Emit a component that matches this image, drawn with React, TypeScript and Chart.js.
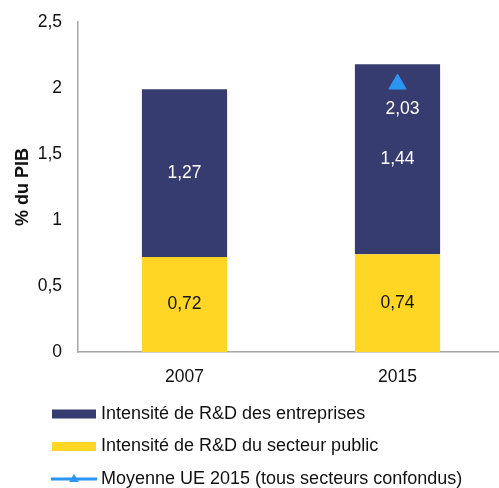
import React, { useEffect, useRef } from "react";
import { Chart, registerables } from "chart.js";

Chart.register(...registerables);

const categories = ["2007", "2015"];
const publicValues = [0.72, 0.74];
const businessValues = [1.27, 1.44];
const euAverage = [null, 2.03];
const seriesNames = [
  "Intensité de R&D des entreprises",
  "Intensité de R&D du secteur public",
  "Moyenne UE 2015 (tous secteurs confondus)",
];
const yTitle = "% du PIB";

const NAVY = "#363C70";
const YELLOW = "#FFD624";
const BLUE = "#2C95F2";
const FONT = "'Liberation Sans', Arial, sans-serif";

const fmt = (v: number, d?: number) =>
  (d === undefined ? String(v) : v.toFixed(d)).replace(".", ",");

const PLOT_TOP = 22;

const extendPlot = {
  id: "extendPlot",
  afterLayout(chart: any) {
    const x = chart.scales.x;
    const y = chart.scales.y;
    const r = chart.width + 5;
    x.right = r;
    x.width = r - x.left;
    chart.chartArea.right = r;
    chart.chartArea.width = r - chart.chartArea.left;
    y.top = PLOT_TOP;
    y.height = y.bottom - PLOT_TOP;
    chart.chartArea.top = PLOT_TOP;
    chart.chartArea.height = chart.chartArea.bottom - PLOT_TOP;
    x.configure();
    y.configure();
  },
};

const labelPlugin = {
  id: "labels",
  afterDatasetsDraw(chart: any) {
    const ctx = chart.ctx;
    ctx.save();
    ctx.font = `17.5px ${FONT}`;
    ctx.textAlign = "center";
    ctx.textBaseline = "middle";
    chart.data.datasets.forEach((ds: any, di: number) => {
      const meta = chart.getDatasetMeta(di);
      meta.data.forEach((el: any, i: number) => {
        const v = ds.data[i];
        if (v == null) return;
        if (ds.type === "line") {
          ctx.fillStyle = "#FFFFFF";
          ctx.fillText(fmt(v, 2), el.x + 5, el.y + 25);
        } else {
          ctx.fillStyle = ds.labelColor;
          ctx.fillText(fmt(v, 2), el.x, (el.y + el.base) / 2);
        }
      });
    });
    ctx.restore();
  },
};

const legendPlugin = {
  id: "customLegend",
  afterDraw(chart: any) {
    const ctx = chart.ctx;
    const H = chart.height;
    const rows = [
      { name: seriesNames[0], color: NAVY, kind: "box" },
      { name: seriesNames[1], color: YELLOW, kind: "box" },
      { name: seriesNames[2], color: BLUE, kind: "line" },
    ];
    ctx.save();
    ctx.font = `18px ${FONT}`;
    ctx.textAlign = "left";
    ctx.textBaseline = "middle";
    rows.forEach((r, i) => {
      const cy = H - 74 + i * 32.5;
      ctx.fillStyle = r.color;
      if (r.kind === "box") {
        ctx.fillRect(52, cy - 4.5, 44, 9);
      } else {
        ctx.fillRect(51, cy - 1.5, 46, 3);
        ctx.beginPath();
        ctx.moveTo(74, cy - 5);
        ctx.lineTo(79, cy + 3);
        ctx.lineTo(69, cy + 3);
        ctx.closePath();
        ctx.fill();
      }
      ctx.fillStyle = "#111111";
      ctx.fillText(r.name, 101, cy);
    });
    ctx.restore();
  },
};

export default function App() {
  const ref = useRef<HTMLCanvasElement>(null);
  useEffect(() => {
    document.body.style.margin = "0";
    const chart = new Chart(ref.current!, {
      type: "bar",
      data: {
        labels: categories,
        datasets: [
          {
            type: "bar",
            label: seriesNames[1],
            data: publicValues,
            backgroundColor: YELLOW,
            stack: "bars",
            order: 2,
            barPercentage: 0.4,
            categoryPercentage: 1,
            labelColor: "#111111",
          } as any,
          {
            type: "bar",
            label: seriesNames[0],
            data: businessValues,
            backgroundColor: NAVY,
            stack: "bars",
            order: 2,
            barPercentage: 0.4,
            categoryPercentage: 1,
            labelColor: "#FFFFFF",
          } as any,
          {
            type: "line",
            label: seriesNames[2],
            data: euAverage,
            stack: "avg",
            order: 0,
            showLine: false,
            pointStyle: "triangle",
            pointRadius: 10,
            pointBackgroundColor: BLUE,
            pointBorderColor: BLUE,
            pointBorderWidth: 1,
            backgroundColor: BLUE,
            borderColor: BLUE,
          } as any,
        ],
      },
      options: {
        animation: false,
        responsive: false,
        maintainAspectRatio: false,
        layout: { padding: { left: 8, top: 6, right: 0, bottom: 100 } },
        plugins: {
          legend: { display: false },
          tooltip: { enabled: false },
        },
        scales: {
          x: {
            stacked: true,
            grid: { display: false, drawTicks: false },
            border: { display: true, color: "#A6A6A6", width: 1.5 },
            ticks: { color: "#111111", font: { family: FONT, size: 17.5 }, padding: 15 },
            afterFit: (s: any) => {
              s.height = 36;
            },
          },
          y: {
            stacked: true,
            min: 0,
            max: 2.5,
            grid: { display: false, drawTicks: false },
            border: { display: true, color: "#A6A6A6", width: 1.5 },
            ticks: {
              stepSize: 0.5,
              color: "#111111",
              font: { family: FONT, size: 17.5 },
              padding: 16,
              callback: (v: any) => fmt(Number(v)),
            },
            title: {
              display: true,
              text: yTitle,
              color: "#111111",
              font: { family: FONT, size: 18, weight: "bold" },
              padding: 4,
            },
            afterFit: (s: any) => {
              s.width = 70;
            },
          },
        },
      },
      plugins: [extendPlot, labelPlugin, legendPlugin],
    });
    return () => chart.destroy();
  }, []);
  return (
    <div style={{ width: 499, height: 488 }}>
      <canvas ref={ref} width={499} height={488} style={{ display: "block" }} />
    </div>
  );
}
